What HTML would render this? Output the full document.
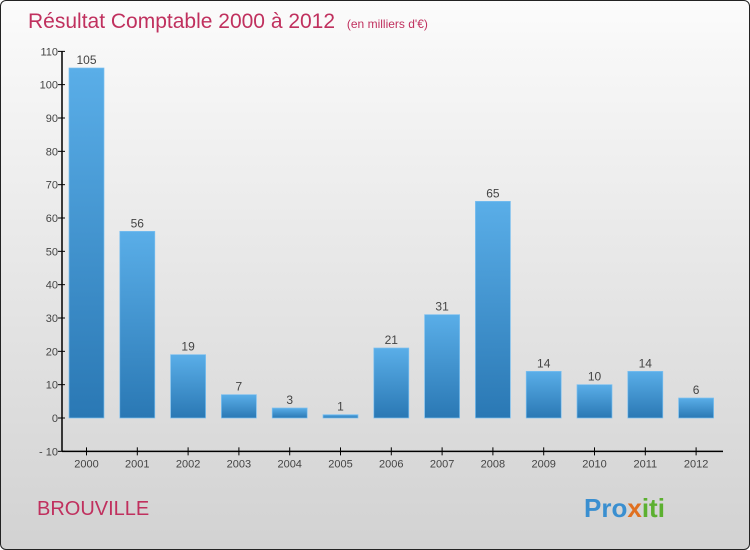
<!DOCTYPE html>
<html><head><meta charset="utf-8"><style>
body{margin:0;width:750px;height:550px;overflow:hidden;font-family:"Liberation Sans",sans-serif}
#wrap{position:absolute;left:0;top:0;width:748px;height:548px;border:1px solid #222;border-radius:6px;background:linear-gradient(#fbfbfb,#d2d2d2);overflow:hidden}
</style></head><body>
<div id="wrap">
<svg width="750" height="550" id="svg">
<defs><linearGradient id="bg" x1="0" y1="0" x2="0" y2="1"><stop offset="0" stop-color="#5aaee8"/><stop offset="1" stop-color="#2a78b4"/></linearGradient></defs>
<text x="27" y="27" font-size="21" fill="#c0305e">Résultat Comptable 2000 à 2012 <tspan font-size="12" dx="6">(en milliers d'€)</tspan></text>
<text x="36" y="514" font-size="20" fill="#c0305e">BROUVILLE</text>
<text x="583" y="516" font-size="26" font-weight="bold" fill="#3a8fd0">Pro<tspan fill="#e07020">x</tspan><tspan fill="#5cb030">iti</tspan></text>
<g id="g"></g>
</svg></div>
<script>
const categories=["2000","2001","2002","2003","2004","2005","2006","2007","2008","2009","2010","2011","2012"];
const values=[105,56,19,7,3,1,21,31,65,14,10,14,6];
const ticks=[-10,0,10,20,30,40,50,60,70,80,90,100,110];
const NS="http://www.w3.org/2000/svg";
const g=document.getElementById('g');
const y=v=>417-(v)*(400/120)+0;
const x=i=>85.5+i*50.8;
function mk(t,a){const e=document.createElementNS(NS,t);for(const k in a)e.setAttribute(k,a[k]);g.appendChild(e);return e;}
let ax=mk('line',{x1:61,y1:y(110),x2:61,y2:y(-10),stroke:'#000','stroke-width':1.5});

let bx=mk('line',{x1:61,y1:y(-10),x2:722,y2:y(-10),stroke:'#000','stroke-width':1.5});

ticks.forEach(t=>{
 let l=mk('line',{x1:57,x2:64,y1:y(t),y2:y(t),stroke:'#000'});
 
 let tx=mk('text',{x:57,y:y(t)+4,'text-anchor':'end','font-size':11,fill:'#444'});
 tx.textContent=t<0?'- '+(-t):t;
 
});
categories.forEach((c,i)=>{
 const v=values[i];
 let r=mk('rect',{x:x(i)-17.5,y:Math.min(y(v),y(0)),width:35,height:Math.abs(y(v)-y(0)),fill:'url(#bg)',stroke:'#7cc0f0','stroke-width':0.7});
 
 let vl=mk('text',{x:x(i),y:y(v)-4,'text-anchor':'middle','font-size':12,fill:'#444'});
 vl.textContent=v;
 let tk=mk('line',{x1:x(i),x2:x(i),y1:y(-10)-4,y2:y(-10)+4,stroke:'#000'});
 
 let xl=mk('text',{x:x(i),y:y(-10)+16,'text-anchor':'middle','font-size':11,fill:'#444'});
 xl.textContent=c;
});
</script>
</body></html>
